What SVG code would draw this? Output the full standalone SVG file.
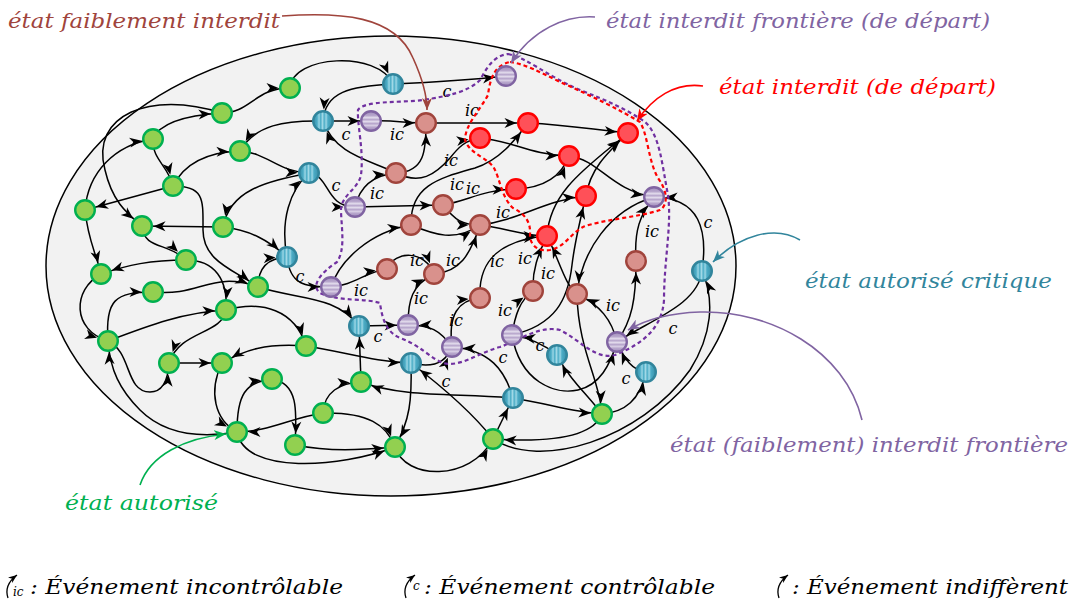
<svg xmlns="http://www.w3.org/2000/svg" width="1073" height="606" viewBox="0 0 1073 606">
<style>
  .e{fill:none;stroke:#000;stroke-width:1.5;marker-end:url(#ah)}
  .ok{fill:#92d050;stroke:#00b050;stroke-width:2.4}
  .cr{fill:url(#gBlue);stroke:#31859c;stroke-width:2.4}
  .fr{fill:url(#gPurple);stroke:#8064a2;stroke-width:2.4}
  .wf{fill:#d9918c;stroke:#a0443c;stroke-width:2.4}
  .fb{fill:#ff5058;stroke:#ff0000;stroke-width:2.4}
  .lb{font-family:"DejaVu Serif","Liberation Serif",serif;font-style:italic;font-size:16px;fill:#000;text-anchor:middle}
  .tt{font-family:"DejaVu Serif","Liberation Serif",serif;font-style:italic;font-size:21px}
  .lg{font-family:"DejaVu Serif","Liberation Serif",serif;font-style:italic;font-size:21px;fill:#000}
  .ptr{fill:none;stroke-width:1.6}
</style>
<defs>
  <linearGradient id="gBlue" x1="0" y1="0" x2="1" y2="0">
    <stop offset="0" stop-color="#3a8fa8"/>
    <stop offset="0.2" stop-color="#4bacc6"/>
    <stop offset="0.3" stop-color="#9bd6e5"/>
    <stop offset="0.38" stop-color="#4bacc6"/>
    <stop offset="0.48" stop-color="#a5dbe8"/>
    <stop offset="0.56" stop-color="#4bacc6"/>
    <stop offset="0.66" stop-color="#9bd6e5"/>
    <stop offset="0.75" stop-color="#4bacc6"/>
    <stop offset="1" stop-color="#3a8fa8"/>
  </linearGradient>
  <linearGradient id="gPurple" x1="0" y1="0" x2="0" y2="1">
    <stop offset="0" stop-color="#a08cbc"/>
    <stop offset="0.22" stop-color="#b7a6cc"/>
    <stop offset="0.33" stop-color="#e2dbec"/>
    <stop offset="0.43" stop-color="#b7a6cc"/>
    <stop offset="0.53" stop-color="#e2dbec"/>
    <stop offset="0.63" stop-color="#b7a6cc"/>
    <stop offset="0.73" stop-color="#d6cce3"/>
    <stop offset="0.82" stop-color="#b7a6cc"/>
    <stop offset="1" stop-color="#a08cbc"/>
  </linearGradient>
  <!-- arrowhead that stops at the rim of the target node -->
  <marker id="ah" viewBox="0 0 12 10" refX="23.5" refY="5" markerWidth="12" markerHeight="10" markerUnits="userSpaceOnUse" orient="auto" overflow="visible">
    <path d="M0,0 L12,5 L0,10 L3.5,5 Z" fill="#000"/>
  </marker>
  <marker id="aBrown" viewBox="0 0 12 10" refX="12" refY="5" markerWidth="12" markerHeight="10" markerUnits="userSpaceOnUse" orient="auto"><path d="M0,0 L12,5 L0,10 L3.5,5 Z" fill="#a0443c"/></marker>
  <marker id="aPurple" viewBox="0 0 12 10" refX="12" refY="5" markerWidth="12" markerHeight="10" markerUnits="userSpaceOnUse" orient="auto"><path d="M0,0 L12,5 L0,10 L3.5,5 Z" fill="#8064a2"/></marker>
  <marker id="aRed" viewBox="0 0 12 10" refX="12" refY="5" markerWidth="12" markerHeight="10" markerUnits="userSpaceOnUse" orient="auto"><path d="M0,0 L12,5 L0,10 L3.5,5 Z" fill="#ff0000"/></marker>
  <marker id="aTeal" viewBox="0 0 12 10" refX="12" refY="5" markerWidth="12" markerHeight="10" markerUnits="userSpaceOnUse" orient="auto"><path d="M0,0 L12,5 L0,10 L3.5,5 Z" fill="#31859c"/></marker>
  <marker id="aGreen" viewBox="0 0 12 10" refX="12" refY="5" markerWidth="12" markerHeight="10" markerUnits="userSpaceOnUse" orient="auto"><path d="M0,0 L12,5 L0,10 L3.5,5 Z" fill="#00b050"/></marker>
  <marker id="aSmall" viewBox="0 0 10 8" refX="10" refY="4" markerWidth="9" markerHeight="7" markerUnits="userSpaceOnUse" orient="auto"><path d="M0,0 L10,4 L0,8 L3,4 Z" fill="#000"/></marker>
</defs>

<!-- state space -->
<ellipse id="space" cx="391" cy="266" rx="345" ry="230" fill="#f2f2f2" stroke="#000" stroke-width="1.5"/>

<g id="connectors">
  <path class="e" d="M290,88 C292,55 378,50 393,84"/>
  <path class="e" d="M222,113 C250,113 255,88 290,88"/>
  <path class="e" d="M222,113 C150,90 90,115 105,170 C112,200 125,212 142,226"/>
  <path class="e" d="M153,139 C160,122 190,115 222,113"/>
  <path class="e" d="M153,139 C152,160 168,165 173,186"/>
  <path class="e" d="M85,210 C88,172 115,145 153,139"/>
  <path class="e" d="M173,186 C185,162 210,152 240,151"/>
  <path class="e" d="M173,186 L85,210"/>
  <path class="e" d="M173,186 C205,186 203,200 203,230 C203,262 235,270 258,287"/>
  <path class="e" d="M240,151 C268,153 278,172 309,173"/>
  <path class="e" d="M309,173 C265,182 230,190 223,227"/>
  <path class="e" d="M223,227 L142,226"/>
  <path class="e" d="M223,227 C250,230 268,240 287,257"/>
  <path class="e" d="M142,226 C144,250 168,242 186,260"/>
  <path class="e" d="M186,260 C150,260 128,265 101,274"/>
  <path class="e" d="M85,210 C88,240 95,250 101,274"/>
  <path class="e" d="M101,274 C72,290 72,330 108,341"/>
  <path class="e" d="M108,341 C105,300 115,292 153,292"/>
  <path class="e" d="M153,292 C200,297 212,270 258,287"/>
  <path class="e" d="M186,260 C215,260 228,280 226,310"/>
  <path class="e" d="M108,341 C150,325 185,312 226,310"/>
  <path class="e" d="M226,310 C222,335 180,330 169,363"/>
  <path class="e" d="M169,363 L222,363"/>
  <path class="e" d="M108,341 C132,352 125,392 150,392 C163,392 168,380 169,363"/>
  <path class="e" d="M306,346 C265,343 245,350 222,363"/>
  <path class="e" d="M226,310 C262,300 295,310 306,346"/>
  <path class="e" d="M306,346 C345,352 375,362 411,363"/>
  <path class="e" d="M258,287 C258,268 268,258 287,257"/>
  <path class="e" d="M258,287 C300,300 335,295 359,326"/>
  <path class="e" d="M287,257 C290,285 305,287 331,287"/>
  <path class="e" d="M287,257 C280,220 290,190 309,173"/>
  <path class="e" d="M222,363 C208,392 215,420 237,432"/>
  <path class="e" d="M237,432 C237,395 245,382 272,379"/>
  <path class="e" d="M272,379 C298,383 297,410 295,445"/>
  <path class="e" d="M323,413 C290,418 268,432 237,432"/>
  <path class="e" d="M323,413 C324,392 340,383 361,382"/>
  <path class="e" d="M323,413 C368,412 387,425 395,447"/>
  <path class="e" d="M295,445 C330,452 360,450 395,447"/>
  <path class="e" d="M237,432 C245,475 340,468 395,447"/>
  <path class="e" d="M395,447 C405,480 470,482 493,439"/>
  <path class="e" d="M411,363 C412,400 410,420 395,447"/>
  <path class="e" d="M493,439 C470,410 440,385 411,363"/>
  <path class="e" d="M513,398 C455,393 405,398 361,382"/>
  <path class="e" d="M493,439 L513,398"/>
  <path class="e" d="M602,414 C592,440 540,442 493,439"/>
  <path class="e" d="M513,398 C550,404 572,412 602,414"/>
  <path class="e" d="M602,414 C625,412 640,400 646,372"/>
  <path class="e" d="M493,439 C540,470 640,440 690,370 C712,335 715,300 702,271"/>
  <path class="e" d="M602,414 C585,392 570,380 557,355"/>
  <path class="e" d="M237,432 C190,440 160,430 140,410 C120,390 110,370 108,341"/>
  <path class="e" d="M361,382 L359,326"/>
  <path class="e" d="M557,355 C545,345 530,338 512,335"/>
  <path class="e" d="M646,372 C632,370 625,360 617,342"/>
  <path class="e" d="M702,271 C698,305 650,320 617,342"/>
  <path class="e" d="M702,271 C708,230 700,198 654,197"/>
  <path class="e" d="M393,84 C440,82 470,80 506,76"/>
  <path class="e" d="M393,84 C350,86 325,92 323,121"/>
  <path class="e" d="M323,121 C285,120 255,125 240,151"/>
  <path class="e" d="M323,121 L371,121"/>
  <path class="e" d="M396,173 C370,160 335,155 323,121"/>
  <path class="e" d="M309,173 C330,175 325,207 355,207"/>
  <path class="e" d="M359,326 L408,325"/>
  <path class="e" d="M411,363 C430,368 445,365 452,347"/>
  <path class="e" d="M513,398 C505,370 490,350 452,347"/>
  <path class="e" d="M512,335 C520,382 555,395 578,390 C600,385 610,365 617,342"/>
  <path class="e" d="M512,335 C515,315 520,300 533,291"/>
  <path class="e" d="M512,335 C555,325 568,300 572,265 C575,240 580,220 586,196"/>
  <path class="e" d="M577,294 C578,350 600,380 602,414"/>
  <path class="e" d="M577,294 C565,285 560,262 547,236"/>
  <path class="e" d="M617,342 C612,320 600,305 577,294"/>
  <path class="e" d="M617,342 C632,320 636,300 636,261"/>
  <path class="e" d="M636,261 C634,230 640,215 654,197"/>
  <path class="e" d="M654,197 C610,210 582,250 577,294"/>
  <path class="e" d="M569,156 C600,160 610,190 654,197"/>
  <path class="e" d="M528,123 C570,125 595,130 628,133"/>
  <path class="e" d="M480,138 C510,140 530,155 569,156"/>
  <path class="e" d="M516,189 C540,188 560,180 569,156"/>
  <path class="e" d="M586,196 C590,170 605,155 628,133"/>
  <path class="e" d="M547,236 C550,190 590,165 628,133"/>
  <path class="e" d="M480,225 C520,220 545,200 586,196"/>
  <path class="e" d="M480,225 C505,228 525,236 547,236"/>
  <path class="e" d="M480,298 C478,260 500,240 547,236"/>
  <path class="e" d="M533,291 C532,270 538,255 547,236"/>
  <path class="e" d="M426,123 L528,123"/>
  <path class="e" d="M371,121 C395,120 405,123 426,123"/>
  <path class="e" d="M396,173 C425,172 426,150 426,123"/>
  <path class="e" d="M396,173 C420,185 435,175 450,158 C458,148 465,140 480,138"/>
  <path class="e" d="M355,207 C360,185 375,175 396,173"/>
  <path class="e" d="M355,207 L443,205"/>
  <path class="e" d="M443,205 C470,200 482,190 516,189"/>
  <path class="e" d="M411,225 C410,185 440,178 475,168 C500,160 515,140 528,123"/>
  <path class="e" d="M443,205 C455,220 462,225 480,225"/>
  <path class="e" d="M411,225 C435,235 455,242 480,225"/>
  <path class="e" d="M331,287 C340,260 370,232 411,225"/>
  <path class="e" d="M331,287 C355,285 365,272 387,269"/>
  <path class="e" d="M387,269 C395,250 425,250 434,274"/>
  <path class="e" d="M434,274 C460,272 470,255 480,225"/>
  <path class="e" d="M408,325 C408,300 412,285 434,274"/>
  <path class="e" d="M452,347 C440,330 430,325 408,325"/>
  <path class="e" d="M452,347 C448,315 458,300 480,298"/>
</g>

<g id="event-labels">
  <text class="lb" x="447" y="97">c</text>
  <text class="lb" x="346" y="140">c</text>
  <text class="lb" x="336" y="191">c</text>
  <text class="lb" x="300" y="282">c</text>
  <text class="lb" x="378" y="342">c</text>
  <text class="lb" x="446" y="387">c</text>
  <text class="lb" x="503" y="363">c</text>
  <text class="lb" x="540" y="351">c</text>
  <text class="lb" x="626" y="384">c</text>
  <text class="lb" x="673" y="334">c</text>
  <text class="lb" x="708" y="228">c</text>
  <text class="lb" x="472" y="116">ic</text>
  <text class="lb" x="397" y="140">ic</text>
  <text class="lb" x="451" y="166">ic</text>
  <text class="lb" x="377" y="199">ic</text>
  <text class="lb" x="457" y="190">ic</text>
  <text class="lb" x="473" y="194">ic</text>
  <text class="lb" x="503" y="218">ic</text>
  <text class="lb" x="361" y="296">ic</text>
  <text class="lb" x="417" y="266">ic</text>
  <text class="lb" x="453" y="266">ic</text>
  <text class="lb" x="421" y="304">ic</text>
  <text class="lb" x="456" y="326">ic</text>
  <text class="lb" x="497" y="267">ic</text>
  <text class="lb" x="525" y="264">ic</text>
  <text class="lb" x="548" y="279">ic</text>
  <text class="lb" x="505" y="316">ic</text>
  <text class="lb" x="613" y="311">ic</text>
  <text class="lb" x="652" y="237">ic</text>
</g>

<!-- frontier of the weakly forbidden zone and of the forbidden zone -->
<path id="frontier-weak" fill="none" stroke="#7030a0" stroke-width="2.2" stroke-dasharray="4 3" d="M508,54 C528,58 545,75 580,90 C605,100 625,108 645,122 C660,135 662,165 668,195 C672,225 664,260 664,300 C662,330 640,345 615,355 C595,360 580,340 560,330 C540,325 520,340 500,347 C480,352 460,368 443,363 C430,358 420,345 400,338 C386,332 382,318 380,303 C365,298 340,302 320,293 C310,285 322,272 337,262 C345,250 342,232 341,212 C340,195 358,190 361,175 C364,150 357,125 358,110 C365,100 400,103 423,100 C448,96 468,92 480,80 C486,70 492,56 508,54 Z"/>
<path id="frontier-strong" fill="none" stroke="#ff0000" stroke-width="2.2" stroke-dasharray="4 3" d="M510,62 C525,64 540,72 560,82 C590,95 620,110 640,122 C648,135 648,160 658,178 C668,192 668,205 660,210 C640,217 600,220 583,227 C570,234 565,247 550,250 C538,252 530,245 530,235 C531,222 525,214 513,208 C502,198 500,180 495,170 C490,158 470,155 465,140 C465,125 480,110 488,95 C490,78 495,65 510,62 Z"/>

<g id="states">
  <g id="s-g1"><circle class="ok" cx="290" cy="88" r="9.8"/></g>
  <g id="s-g2"><circle class="ok" cx="222" cy="113" r="9.8"/></g>
  <g id="s-g3"><circle class="ok" cx="153" cy="139" r="9.8"/></g>
  <g id="s-g4"><circle class="ok" cx="240" cy="151" r="9.8"/></g>
  <g id="s-g5"><circle class="ok" cx="173" cy="186" r="9.8"/></g>
  <g id="s-g6"><circle class="ok" cx="85" cy="210" r="9.8"/></g>
  <g id="s-g7"><circle class="ok" cx="142" cy="226" r="9.8"/></g>
  <g id="s-g8"><circle class="ok" cx="223" cy="227" r="9.8"/></g>
  <g id="s-g9"><circle class="ok" cx="186" cy="260" r="9.8"/></g>
  <g id="s-g10"><circle class="ok" cx="101" cy="274" r="9.8"/></g>
  <g id="s-g11"><circle class="ok" cx="153" cy="292" r="9.8"/></g>
  <g id="s-g12"><circle class="ok" cx="226" cy="310" r="9.8"/></g>
  <g id="s-g13"><circle class="ok" cx="258" cy="287" r="9.8"/></g>
  <g id="s-g14"><circle class="ok" cx="108" cy="341" r="9.8"/></g>
  <g id="s-g15"><circle class="ok" cx="169" cy="363" r="9.8"/></g>
  <g id="s-g16"><circle class="ok" cx="222" cy="363" r="9.8"/></g>
  <g id="s-g17"><circle class="ok" cx="306" cy="346" r="9.8"/></g>
  <g id="s-g18"><circle class="ok" cx="272" cy="379" r="9.8"/></g>
  <g id="s-g19"><circle class="ok" cx="361" cy="382" r="9.8"/></g>
  <g id="s-g20"><circle class="ok" cx="323" cy="413" r="9.8"/></g>
  <g id="s-g21"><circle class="ok" cx="237" cy="432" r="9.8"/></g>
  <g id="s-g22"><circle class="ok" cx="295" cy="445" r="9.8"/></g>
  <g id="s-g23"><circle class="ok" cx="395" cy="447" r="9.8"/></g>
  <g id="s-g24"><circle class="ok" cx="493" cy="439" r="9.8"/></g>
  <g id="s-g25"><circle class="ok" cx="602" cy="414" r="9.8"/></g>

  <g id="s-b1"><circle class="cr" cx="393" cy="84" r="9.8"/></g>
  <g id="s-b2"><circle class="cr" cx="323" cy="121" r="9.8"/></g>
  <g id="s-b3"><circle class="cr" cx="309" cy="173" r="9.8"/></g>
  <g id="s-b4"><circle class="cr" cx="287" cy="257" r="9.8"/></g>
  <g id="s-b5"><circle class="cr" cx="359" cy="326" r="9.8"/></g>
  <g id="s-b6"><circle class="cr" cx="411" cy="363" r="9.8"/></g>
  <g id="s-b7"><circle class="cr" cx="513" cy="398" r="9.8"/></g>
  <g id="s-b8"><circle class="cr" cx="557" cy="355" r="9.8"/></g>
  <g id="s-b9"><circle class="cr" cx="646" cy="372" r="9.8"/></g>
  <g id="s-b10"><circle class="cr" cx="702" cy="271" r="9.8"/></g>

  <g id="s-p1"><circle class="fr" cx="506" cy="76" r="9.8"/></g>
  <g id="s-p2"><circle class="fr" cx="371" cy="121" r="9.8"/></g>
  <g id="s-p3"><circle class="fr" cx="355" cy="207" r="9.8"/></g>
  <g id="s-p4"><circle class="fr" cx="654" cy="197" r="9.8"/></g>
  <g id="s-p5"><circle class="fr" cx="331" cy="287" r="9.8"/></g>
  <g id="s-p6"><circle class="fr" cx="408" cy="325" r="9.8"/></g>
  <g id="s-p7"><circle class="fr" cx="452" cy="347" r="9.8"/></g>
  <g id="s-p8"><circle class="fr" cx="512" cy="335" r="9.8"/></g>
  <g id="s-p9"><circle class="fr" cx="617" cy="342" r="9.8"/></g>

  <g id="s-w1"><circle class="wf" cx="426" cy="123" r="9.8"/></g>
  <g id="s-w2"><circle class="wf" cx="396" cy="173" r="9.8"/></g>
  <g id="s-w3"><circle class="wf" cx="443" cy="205" r="9.8"/></g>
  <g id="s-w4"><circle class="wf" cx="411" cy="225" r="9.8"/></g>
  <g id="s-w5"><circle class="wf" cx="480" cy="225" r="9.8"/></g>
  <g id="s-w6"><circle class="wf" cx="387" cy="269" r="9.8"/></g>
  <g id="s-w7"><circle class="wf" cx="434" cy="274" r="9.8"/></g>
  <g id="s-w8"><circle class="wf" cx="480" cy="298" r="9.8"/></g>
  <g id="s-w9"><circle class="wf" cx="533" cy="291" r="9.8"/></g>
  <g id="s-w10"><circle class="wf" cx="577" cy="294" r="9.8"/></g>
  <g id="s-w11"><circle class="wf" cx="636" cy="261" r="9.8"/></g>

  <g id="s-r1"><circle class="fb" cx="528" cy="123" r="9.8"/></g>
  <g id="s-r2"><circle class="fb" cx="480" cy="138" r="9.8"/></g>
  <g id="s-r3"><circle class="fb" cx="516" cy="189" r="9.8"/></g>
  <g id="s-r4"><circle class="fb" cx="569" cy="156" r="9.8"/></g>
  <g id="s-r5"><circle class="fb" cx="628" cy="133" r="9.8"/></g>
  <g id="s-r6"><circle class="fb" cx="586" cy="196" r="9.8"/></g>
  <g id="s-r7"><circle class="fb" cx="547" cy="236" r="9.8"/></g>
</g>

<g id="annotations">
  <g id="note-weak">
    <text class="tt" x="8" y="28" fill="#a0443c" textLength="272" lengthAdjust="spacingAndGlyphs">état faiblement interdit</text>
    <path class="ptr" stroke="#a0443c" marker-end="url(#aBrown)" d="M282,16 C340,12 395,15 413,58 C423,80 427,95 427,110"/>
  </g>
  <g id="note-frontier-start">
    <text class="tt" x="606" y="28" fill="#8064a2" textLength="384" lengthAdjust="spacingAndGlyphs">état interdit frontière (de départ)</text>
    <path class="ptr" stroke="#8064a2" marker-end="url(#aPurple)" d="M595,17 C565,15 532,30 511,63"/>
  </g>
  <g id="note-forbidden-start">
    <text class="tt" x="719" y="94" fill="#ff0000" textLength="277" lengthAdjust="spacingAndGlyphs">état interdit (de départ)</text>
    <path class="ptr" stroke="#ff0000" marker-end="url(#aRed)" d="M703,86 C675,82 652,98 637,121"/>
  </g>
  <g id="note-critical">
    <text class="tt" x="805" y="288" fill="#31859c" textLength="247" lengthAdjust="spacingAndGlyphs">état autorisé critique</text>
    <path class="ptr" stroke="#31859c" marker-end="url(#aTeal)" d="M800,240 C775,225 740,235 713,262"/>
  </g>
  <g id="note-frontier-weak">
    <text class="tt" x="670" y="452" fill="#8064a2" textLength="398" lengthAdjust="spacingAndGlyphs">état (faiblement) interdit frontière</text>
    <path class="ptr" stroke="#8064a2" marker-end="url(#aPurple)" d="M862,420 C845,350 770,310 700,312 C670,313 645,320 628,330"/>
  </g>
  <g id="note-allowed">
    <text class="tt" x="65" y="510" fill="#00b050" textLength="153" lengthAdjust="spacingAndGlyphs">état autorisé</text>
    <path class="ptr" stroke="#00b050" marker-end="url(#aGreen)" d="M140,485 C150,455 185,438 226,434"/>
  </g>
</g>

<g id="legend">
  <path fill="none" stroke="#000" stroke-width="1.3" marker-end="url(#aSmall)" d="M8,598 C5,589 9,581 17,575"/>
  <text class="lg" x="13" y="596" font-size="12" style="font-size:12px">ic</text>
  <text class="lg" x="30" y="594" textLength="313" lengthAdjust="spacingAndGlyphs">: Événement incontrôlable</text>
  <path fill="none" stroke="#000" stroke-width="1.3" marker-end="url(#aSmall)" d="M406,598 C403,589 407,581 415,575"/>
  <text class="lg" x="413" y="590" style="font-size:12px">c</text>
  <text class="lg" x="424" y="594" textLength="291" lengthAdjust="spacingAndGlyphs">: Événement contrôlable</text>
  <path fill="none" stroke="#000" stroke-width="1.3" marker-end="url(#aSmall)" d="M779,598 C776,589 780,581 788,575"/>
  <text class="lg" x="792" y="594" textLength="276" lengthAdjust="spacingAndGlyphs">: Événement indiffèrent</text>
</g>
</svg>
